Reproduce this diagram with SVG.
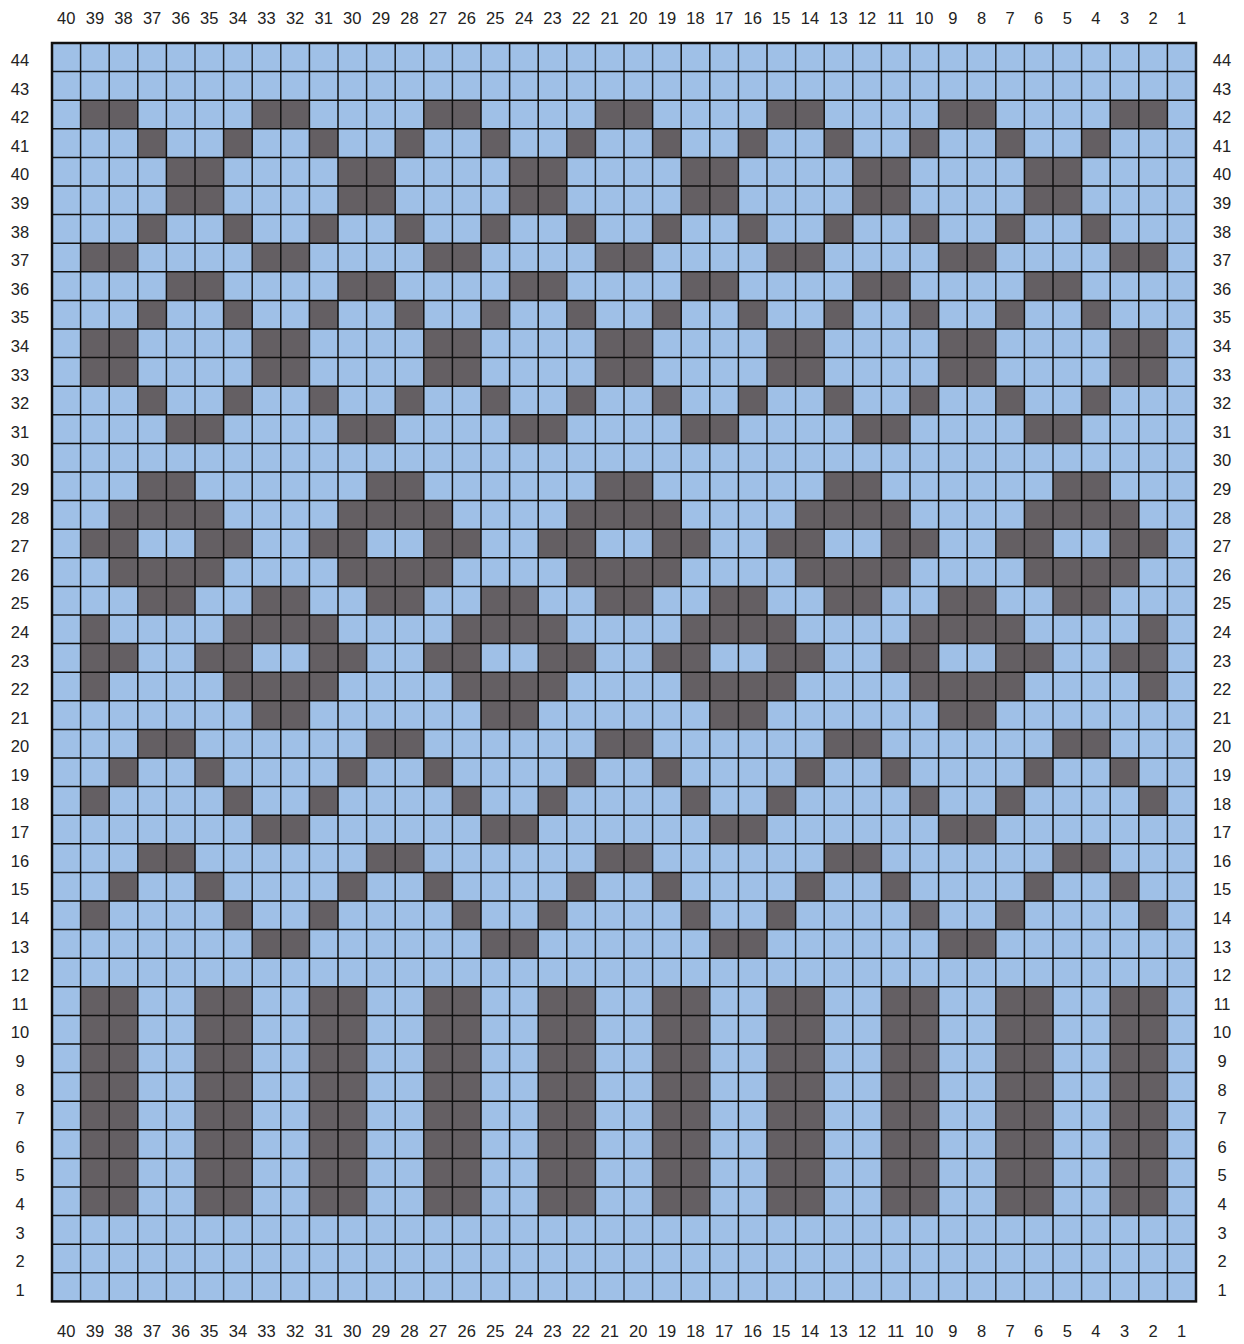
<svg xmlns="http://www.w3.org/2000/svg" xmlns:xlink="http://www.w3.org/1999/xlink" width="1244" height="1344" viewBox="0 0 1244 1344">
<style>
.d{fill:#645F63}
.lbl{font-family:"Liberation Sans",Arial,sans-serif;font-size:16.5px;fill:#222;text-anchor:middle}
.grid{fill:none;stroke:#111;stroke-width:1.5}
</style>
<defs>
<g id="rA"><rect class="d" x="80.6" y="0" width="57.2" height="28.6"/><rect class="d" x="252.2" y="0" width="57.2" height="28.6"/><rect class="d" x="423.8" y="0" width="57.2" height="28.6"/><rect class="d" x="595.4" y="0" width="57.2" height="28.6"/><rect class="d" x="767" y="0" width="57.2" height="28.6"/><rect class="d" x="938.6" y="0" width="57.2" height="28.6"/><rect class="d" x="1110.2" y="0" width="57.2" height="28.6"/></g>
<g id="rB"><rect class="d" x="137.8" y="0" width="28.6" height="28.6"/><rect class="d" x="223.6" y="0" width="28.6" height="28.6"/><rect class="d" x="309.4" y="0" width="28.6" height="28.6"/><rect class="d" x="395.2" y="0" width="28.6" height="28.6"/><rect class="d" x="481" y="0" width="28.6" height="28.6"/><rect class="d" x="566.8" y="0" width="28.6" height="28.6"/><rect class="d" x="652.6" y="0" width="28.6" height="28.6"/><rect class="d" x="738.4" y="0" width="28.6" height="28.6"/><rect class="d" x="824.2" y="0" width="28.6" height="28.6"/><rect class="d" x="910" y="0" width="28.6" height="28.6"/><rect class="d" x="995.8" y="0" width="28.6" height="28.6"/><rect class="d" x="1081.6" y="0" width="28.6" height="28.6"/></g>
<g id="rC"><rect class="d" x="166.4" y="0" width="57.2" height="28.6"/><rect class="d" x="338" y="0" width="57.2" height="28.6"/><rect class="d" x="509.6" y="0" width="57.2" height="28.6"/><rect class="d" x="681.2" y="0" width="57.2" height="28.6"/><rect class="d" x="852.8" y="0" width="57.2" height="28.6"/><rect class="d" x="1024.4" y="0" width="57.2" height="28.6"/></g>
<g id="rD"><rect class="d" x="137.8" y="0" width="57.2" height="28.6"/><rect class="d" x="366.6" y="0" width="57.2" height="28.6"/><rect class="d" x="595.4" y="0" width="57.2" height="28.6"/><rect class="d" x="824.2" y="0" width="57.2" height="28.6"/><rect class="d" x="1053" y="0" width="57.2" height="28.6"/></g>
<g id="rE"><rect class="d" x="109.2" y="0" width="114.4" height="28.6"/><rect class="d" x="338" y="0" width="114.4" height="28.6"/><rect class="d" x="566.8" y="0" width="114.4" height="28.6"/><rect class="d" x="795.6" y="0" width="114.4" height="28.6"/><rect class="d" x="1024.4" y="0" width="114.4" height="28.6"/></g>
<g id="rF"><rect class="d" x="80.6" y="0" width="57.2" height="28.6"/><rect class="d" x="195" y="0" width="57.2" height="28.6"/><rect class="d" x="309.4" y="0" width="57.2" height="28.6"/><rect class="d" x="423.8" y="0" width="57.2" height="28.6"/><rect class="d" x="538.2" y="0" width="57.2" height="28.6"/><rect class="d" x="652.6" y="0" width="57.2" height="28.6"/><rect class="d" x="767" y="0" width="57.2" height="28.6"/><rect class="d" x="881.4" y="0" width="57.2" height="28.6"/><rect class="d" x="995.8" y="0" width="57.2" height="28.6"/><rect class="d" x="1110.2" y="0" width="57.2" height="28.6"/></g>
<g id="rG"><rect class="d" x="137.8" y="0" width="57.2" height="28.6"/><rect class="d" x="252.2" y="0" width="57.2" height="28.6"/><rect class="d" x="366.6" y="0" width="57.2" height="28.6"/><rect class="d" x="481" y="0" width="57.2" height="28.6"/><rect class="d" x="595.4" y="0" width="57.2" height="28.6"/><rect class="d" x="709.8" y="0" width="57.2" height="28.6"/><rect class="d" x="824.2" y="0" width="57.2" height="28.6"/><rect class="d" x="938.6" y="0" width="57.2" height="28.6"/><rect class="d" x="1053" y="0" width="57.2" height="28.6"/></g>
<g id="rH"><rect class="d" x="80.6" y="0" width="28.6" height="28.6"/><rect class="d" x="223.6" y="0" width="114.4" height="28.6"/><rect class="d" x="452.4" y="0" width="114.4" height="28.6"/><rect class="d" x="681.2" y="0" width="114.4" height="28.6"/><rect class="d" x="910" y="0" width="114.4" height="28.6"/><rect class="d" x="1138.8" y="0" width="28.6" height="28.6"/></g>
<g id="rI"><rect class="d" x="252.2" y="0" width="57.2" height="28.6"/><rect class="d" x="481" y="0" width="57.2" height="28.6"/><rect class="d" x="709.8" y="0" width="57.2" height="28.6"/><rect class="d" x="938.6" y="0" width="57.2" height="28.6"/></g>
<g id="rJ"><rect class="d" x="109.2" y="0" width="28.6" height="28.6"/><rect class="d" x="195" y="0" width="28.6" height="28.6"/><rect class="d" x="338" y="0" width="28.6" height="28.6"/><rect class="d" x="423.8" y="0" width="28.6" height="28.6"/><rect class="d" x="566.8" y="0" width="28.6" height="28.6"/><rect class="d" x="652.6" y="0" width="28.6" height="28.6"/><rect class="d" x="795.6" y="0" width="28.6" height="28.6"/><rect class="d" x="881.4" y="0" width="28.6" height="28.6"/><rect class="d" x="1024.4" y="0" width="28.6" height="28.6"/><rect class="d" x="1110.2" y="0" width="28.6" height="28.6"/></g>
<g id="rK"><rect class="d" x="80.6" y="0" width="28.6" height="28.6"/><rect class="d" x="223.6" y="0" width="28.6" height="28.6"/><rect class="d" x="309.4" y="0" width="28.6" height="28.6"/><rect class="d" x="452.4" y="0" width="28.6" height="28.6"/><rect class="d" x="538.2" y="0" width="28.6" height="28.6"/><rect class="d" x="681.2" y="0" width="28.6" height="28.6"/><rect class="d" x="767" y="0" width="28.6" height="28.6"/><rect class="d" x="910" y="0" width="28.6" height="28.6"/><rect class="d" x="995.8" y="0" width="28.6" height="28.6"/><rect class="d" x="1138.8" y="0" width="28.6" height="28.6"/></g>
</defs>
<rect x="0" y="0" width="1244" height="1344" fill="#ffffff"/>
<g id="chart">
<rect id="field" x="52" y="43" width="1144" height="1258.4" fill="#9FC0E7"/>
<g id="cells">
<use xlink:href="#rA" y="100.2"/>
<use xlink:href="#rB" y="128.8"/>
<use xlink:href="#rC" y="157.4"/>
<use xlink:href="#rC" y="186"/>
<use xlink:href="#rB" y="214.6"/>
<use xlink:href="#rA" y="243.2"/>
<use xlink:href="#rC" y="271.8"/>
<use xlink:href="#rB" y="300.4"/>
<use xlink:href="#rA" y="329"/>
<use xlink:href="#rA" y="357.6"/>
<use xlink:href="#rB" y="386.2"/>
<use xlink:href="#rC" y="414.8"/>
<use xlink:href="#rD" y="472"/>
<use xlink:href="#rE" y="500.6"/>
<use xlink:href="#rF" y="529.2"/>
<use xlink:href="#rE" y="557.8"/>
<use xlink:href="#rG" y="586.4"/>
<use xlink:href="#rH" y="615"/>
<use xlink:href="#rF" y="643.6"/>
<use xlink:href="#rH" y="672.2"/>
<use xlink:href="#rI" y="700.8"/>
<use xlink:href="#rD" y="729.4"/>
<use xlink:href="#rJ" y="758"/>
<use xlink:href="#rK" y="786.6"/>
<use xlink:href="#rI" y="815.2"/>
<use xlink:href="#rD" y="843.8"/>
<use xlink:href="#rJ" y="872.4"/>
<use xlink:href="#rK" y="901"/>
<use xlink:href="#rI" y="929.6"/>
<g id="stripes">
<rect class="d" x="80.6" y="986.8" width="57.2" height="228.8"/><rect class="d" x="195" y="986.8" width="57.2" height="228.8"/><rect class="d" x="309.4" y="986.8" width="57.2" height="228.8"/><rect class="d" x="423.8" y="986.8" width="57.2" height="228.8"/><rect class="d" x="538.2" y="986.8" width="57.2" height="228.8"/><rect class="d" x="652.6" y="986.8" width="57.2" height="228.8"/><rect class="d" x="767" y="986.8" width="57.2" height="228.8"/><rect class="d" x="881.4" y="986.8" width="57.2" height="228.8"/><rect class="d" x="995.8" y="986.8" width="57.2" height="228.8"/><rect class="d" x="1110.2" y="986.8" width="57.2" height="228.8"/>
</g>
</g>
<path id="gridlines" class="grid" d="M80.6 43V1301.4M109.2 43V1301.4M137.8 43V1301.4M166.4 43V1301.4M195 43V1301.4M223.6 43V1301.4M252.2 43V1301.4M280.8 43V1301.4M309.4 43V1301.4M338 43V1301.4M366.6 43V1301.4M395.2 43V1301.4M423.8 43V1301.4M452.4 43V1301.4M481 43V1301.4M509.6 43V1301.4M538.2 43V1301.4M566.8 43V1301.4M595.4 43V1301.4M624 43V1301.4M652.6 43V1301.4M681.2 43V1301.4M709.8 43V1301.4M738.4 43V1301.4M767 43V1301.4M795.6 43V1301.4M824.2 43V1301.4M852.8 43V1301.4M881.4 43V1301.4M910 43V1301.4M938.6 43V1301.4M967.2 43V1301.4M995.8 43V1301.4M1024.4 43V1301.4M1053 43V1301.4M1081.6 43V1301.4M1110.2 43V1301.4M1138.8 43V1301.4M1167.4 43V1301.4M52 71.6H1196M52 100.2H1196M52 128.8H1196M52 157.4H1196M52 186H1196M52 214.6H1196M52 243.2H1196M52 271.8H1196M52 300.4H1196M52 329H1196M52 357.6H1196M52 386.2H1196M52 414.8H1196M52 443.4H1196M52 472H1196M52 500.6H1196M52 529.2H1196M52 557.8H1196M52 586.4H1196M52 615H1196M52 643.6H1196M52 672.2H1196M52 700.8H1196M52 729.4H1196M52 758H1196M52 786.6H1196M52 815.2H1196M52 843.8H1196M52 872.4H1196M52 901H1196M52 929.6H1196M52 958.2H1196M52 986.8H1196M52 1015.4H1196M52 1044H1196M52 1072.6H1196M52 1101.2H1196M52 1129.8H1196M52 1158.4H1196M52 1187H1196M52 1215.6H1196M52 1244.2H1196M52 1272.8H1196"/>
<rect id="border" x="52" y="43" width="1144" height="1258.4" fill="none" stroke="#111" stroke-width="2.5"/>
</g>
<g id="col-labels-top" class="lbl">
<text x="66.3" y="24">40</text><text x="94.9" y="24">39</text><text x="123.5" y="24">38</text><text x="152.1" y="24">37</text><text x="180.7" y="24">36</text><text x="209.3" y="24">35</text><text x="237.9" y="24">34</text><text x="266.5" y="24">33</text><text x="295.1" y="24">32</text><text x="323.7" y="24">31</text><text x="352.3" y="24">30</text><text x="380.9" y="24">29</text><text x="409.5" y="24">28</text><text x="438.1" y="24">27</text><text x="466.7" y="24">26</text><text x="495.3" y="24">25</text><text x="523.9" y="24">24</text><text x="552.5" y="24">23</text><text x="581.1" y="24">22</text><text x="609.7" y="24">21</text><text x="638.3" y="24">20</text><text x="666.9" y="24">19</text><text x="695.5" y="24">18</text><text x="724.1" y="24">17</text><text x="752.7" y="24">16</text><text x="781.3" y="24">15</text><text x="809.9" y="24">14</text><text x="838.5" y="24">13</text><text x="867.1" y="24">12</text><text x="895.7" y="24">11</text><text x="924.3" y="24">10</text><text x="952.9" y="24">9</text><text x="981.5" y="24">8</text><text x="1010.1" y="24">7</text><text x="1038.7" y="24">6</text><text x="1067.3" y="24">5</text><text x="1095.9" y="24">4</text><text x="1124.5" y="24">3</text><text x="1153.1" y="24">2</text><text x="1181.7" y="24">1</text>
</g>
<g id="col-labels-bottom" class="lbl">
<text x="66.3" y="1337">40</text><text x="94.9" y="1337">39</text><text x="123.5" y="1337">38</text><text x="152.1" y="1337">37</text><text x="180.7" y="1337">36</text><text x="209.3" y="1337">35</text><text x="237.9" y="1337">34</text><text x="266.5" y="1337">33</text><text x="295.1" y="1337">32</text><text x="323.7" y="1337">31</text><text x="352.3" y="1337">30</text><text x="380.9" y="1337">29</text><text x="409.5" y="1337">28</text><text x="438.1" y="1337">27</text><text x="466.7" y="1337">26</text><text x="495.3" y="1337">25</text><text x="523.9" y="1337">24</text><text x="552.5" y="1337">23</text><text x="581.1" y="1337">22</text><text x="609.7" y="1337">21</text><text x="638.3" y="1337">20</text><text x="666.9" y="1337">19</text><text x="695.5" y="1337">18</text><text x="724.1" y="1337">17</text><text x="752.7" y="1337">16</text><text x="781.3" y="1337">15</text><text x="809.9" y="1337">14</text><text x="838.5" y="1337">13</text><text x="867.1" y="1337">12</text><text x="895.7" y="1337">11</text><text x="924.3" y="1337">10</text><text x="952.9" y="1337">9</text><text x="981.5" y="1337">8</text><text x="1010.1" y="1337">7</text><text x="1038.7" y="1337">6</text><text x="1067.3" y="1337">5</text><text x="1095.9" y="1337">4</text><text x="1124.5" y="1337">3</text><text x="1153.1" y="1337">2</text><text x="1181.7" y="1337">1</text>
</g>
<g id="row-labels-left" class="lbl">
<text x="20" y="66">44</text><text x="20" y="94.6">43</text><text x="20" y="123.2">42</text><text x="20" y="151.8">41</text><text x="20" y="180.4">40</text><text x="20" y="209">39</text><text x="20" y="237.6">38</text><text x="20" y="266.2">37</text><text x="20" y="294.8">36</text><text x="20" y="323.4">35</text><text x="20" y="352">34</text><text x="20" y="380.6">33</text><text x="20" y="409.2">32</text><text x="20" y="437.8">31</text><text x="20" y="466.4">30</text><text x="20" y="495">29</text><text x="20" y="523.6">28</text><text x="20" y="552.2">27</text><text x="20" y="580.8">26</text><text x="20" y="609.4">25</text><text x="20" y="638">24</text><text x="20" y="666.6">23</text><text x="20" y="695.2">22</text><text x="20" y="723.8">21</text><text x="20" y="752.4">20</text><text x="20" y="781">19</text><text x="20" y="809.6">18</text><text x="20" y="838.2">17</text><text x="20" y="866.8">16</text><text x="20" y="895.4">15</text><text x="20" y="924">14</text><text x="20" y="952.6">13</text><text x="20" y="981.2">12</text><text x="20" y="1009.8">11</text><text x="20" y="1038.4">10</text><text x="20" y="1067">9</text><text x="20" y="1095.6">8</text><text x="20" y="1124.2">7</text><text x="20" y="1152.8">6</text><text x="20" y="1181.4">5</text><text x="20" y="1210">4</text><text x="20" y="1238.6">3</text><text x="20" y="1267.2">2</text><text x="20" y="1295.8">1</text>
</g>
<g id="row-labels-right" class="lbl">
<text x="1222" y="66">44</text><text x="1222" y="94.6">43</text><text x="1222" y="123.2">42</text><text x="1222" y="151.8">41</text><text x="1222" y="180.4">40</text><text x="1222" y="209">39</text><text x="1222" y="237.6">38</text><text x="1222" y="266.2">37</text><text x="1222" y="294.8">36</text><text x="1222" y="323.4">35</text><text x="1222" y="352">34</text><text x="1222" y="380.6">33</text><text x="1222" y="409.2">32</text><text x="1222" y="437.8">31</text><text x="1222" y="466.4">30</text><text x="1222" y="495">29</text><text x="1222" y="523.6">28</text><text x="1222" y="552.2">27</text><text x="1222" y="580.8">26</text><text x="1222" y="609.4">25</text><text x="1222" y="638">24</text><text x="1222" y="666.6">23</text><text x="1222" y="695.2">22</text><text x="1222" y="723.8">21</text><text x="1222" y="752.4">20</text><text x="1222" y="781">19</text><text x="1222" y="809.6">18</text><text x="1222" y="838.2">17</text><text x="1222" y="866.8">16</text><text x="1222" y="895.4">15</text><text x="1222" y="924">14</text><text x="1222" y="952.6">13</text><text x="1222" y="981.2">12</text><text x="1222" y="1009.8">11</text><text x="1222" y="1038.4">10</text><text x="1222" y="1067">9</text><text x="1222" y="1095.6">8</text><text x="1222" y="1124.2">7</text><text x="1222" y="1152.8">6</text><text x="1222" y="1181.4">5</text><text x="1222" y="1210">4</text><text x="1222" y="1238.6">3</text><text x="1222" y="1267.2">2</text><text x="1222" y="1295.8">1</text>
</g>
</svg>
